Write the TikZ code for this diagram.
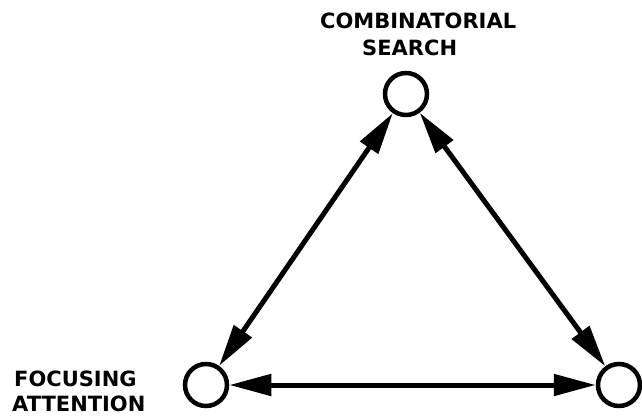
\documentclass[tikz,border=0pt]{standalone}
\usepackage{fontspec}
\newfontfamily\labfont{DejaVu Sans}[BoldFont={DejaVu Sans Bold}]
\usetikzlibrary{arrows.meta}
\tikzset{
  state/.style={circle, draw=black, line width=4.5pt, minimum size=42pt, inner sep=0pt},
  link/.style={line width=5pt, {Triangle[length=42pt,width=21pt]}-{Triangle[length=42pt,width=21pt]}},
  lab/.style={inner sep=0pt, anchor=base west, font=\labfont\bfseries\fontsize{21}{24}\selectfont}
}
\begin{document}
\begin{tikzpicture}[x=1pt,y=-1pt]
\useasboundingbox (0,0) rectangle (642,417);
\node[state] (top) at (406,94) {};
\node[state] (bl) at (206,385) {};
\node[state] (br) at (619,385) {};
\draw[link] (top) -- (bl);
\draw[link] (top) -- (br);
\draw[link] (bl) -- (br);
\node[lab] (l1) at (320,29) {COMBINATORIAL};
\node[lab] (l2) at (362,56) {SEARCH};
\node[lab] (l3) at (14,386) {FOCUSING};
\node[lab] (l4) at (12,411) {ATTENTION};
\end{tikzpicture}
\end{document}
